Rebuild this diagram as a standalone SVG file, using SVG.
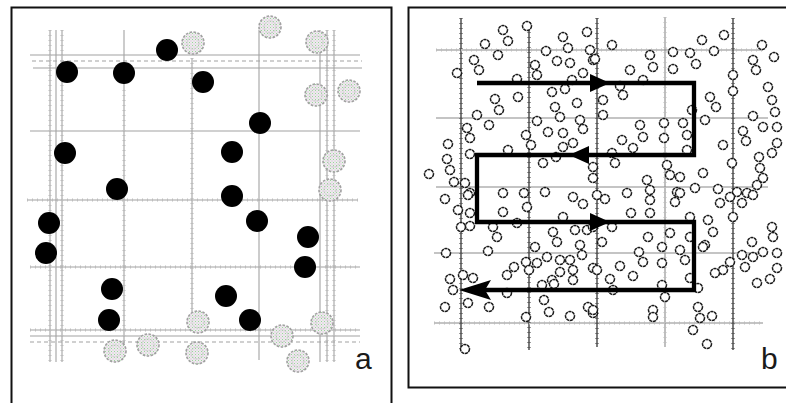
<svg xmlns="http://www.w3.org/2000/svg" width="786" height="403" viewBox="0 0 786 403">
  <defs>
    <pattern id="stipple" width="3" height="3" patternUnits="userSpaceOnUse">
      <rect width="3" height="3" fill="#eceeec"/>
      <rect x="0" y="0" width="1" height="1" fill="#9fcf9f"/>
      <rect x="1.5" y="1.5" width="1" height="1" fill="#dcaedc"/>
    </pattern>
  </defs>
  <style>
    .frame { fill: none; stroke: #111; stroke-width: 2; }
    .gl { stroke: #a2a2a2; stroke-width: 1.1; fill: none; }
    .gt { stroke: #bdbdbd; stroke-width: 3; stroke-dasharray: 1 4; fill: none; }
    .gd { stroke: #a2a2a2; stroke-width: 1.1; stroke-dasharray: 4 3; fill: none; }
    .dl { stroke: #333; stroke-width: 1.3; fill: none; }
    .dt { stroke: #5a5a5a; stroke-width: 3.2; stroke-dasharray: 1 4; fill: none; }
    .ll { stroke: #8a8a8a; stroke-width: 1.1; fill: none; }
    .black { fill: #000; }
    .grey { fill: url(#stipple); stroke: #a0a0a0; stroke-width: 1.6; stroke-dasharray: 2.5 1.5; }
    .greyin { fill: none; stroke: #c8c8c8; stroke-width: 1; stroke-dasharray: 2 1; }
    .pt { fill: #fff; stroke: #1a1a1a; stroke-width: 1.5; stroke-dasharray: 3.2 0.6; }
    .route { fill: none; stroke: #000; stroke-width: 4.3; stroke-linejoin: miter; }
    .head { fill: #000; }
    .lbl { font-family: "Liberation Sans", Arial, sans-serif; font-size: 30px; fill: #1a1a1a; }
  </style>

  <!-- panel frames -->
  <path class="frame" d="M11.5,410 V7.5 H391.5 V410"/>
  <path class="frame" d="M790,7.5 H408.5 V387.5 H790"/>

  <!-- left panel: grid -->
  <g id="grid-a">
    <g class="gl">
      <line x1="50" y1="30" x2="50" y2="362"/>
      <line x1="56" y1="30" x2="56" y2="362"/>
      <line x1="62" y1="30" x2="62" y2="362"/>
      <line x1="124" y1="30" x2="124" y2="345"/>
      <line x1="192" y1="58" x2="192" y2="325"/>
      <line x1="259" y1="30" x2="259" y2="360"/>
      <line x1="320" y1="30" x2="320" y2="362"/>
      <line x1="327" y1="30" x2="327" y2="362"/>
      <line x1="334" y1="30" x2="334" y2="362"/>
      <line x1="30" y1="55" x2="360" y2="55"/>
      <line x1="33" y1="68" x2="362" y2="68"/>
      <line x1="30" y1="131" x2="360" y2="131"/>
      <line x1="27" y1="200" x2="358" y2="200"/>
      <line x1="30" y1="267" x2="360" y2="267"/>
      <line x1="30" y1="330" x2="360" y2="330"/>
      <line x1="30" y1="336" x2="360" y2="336"/>
    </g>
    <line class="gd" x1="32" y1="61" x2="362" y2="61"/>
    <line class="gd" x1="30" y1="342" x2="360" y2="342"/>
    <g class="gt">
      <line x1="50" y1="30" x2="50" y2="362"/>
      <line x1="62" y1="30" x2="62" y2="362"/>
      <line x1="124" y1="90" x2="124" y2="345"/>
      <line x1="192" y1="58" x2="192" y2="325"/>
      <line x1="327" y1="30" x2="327" y2="362"/>
      <line x1="334" y1="30" x2="334" y2="362"/>
      <line x1="27" y1="200" x2="358" y2="200"/>
      <line x1="30" y1="267" x2="360" y2="267"/>
      <line x1="30" y1="330" x2="360" y2="330"/>
    </g>
  </g>

  <!-- left panel: hatched points -->
  <g id="hatched-points">
    <g class="grey">
      <circle cx="193" cy="43" r="11"/>
      <circle cx="270" cy="27" r="11"/>
      <circle cx="317" cy="42" r="11"/>
      <circle cx="316" cy="95" r="11"/>
      <circle cx="349" cy="91" r="11"/>
      <circle cx="334" cy="161" r="11"/>
      <circle cx="330" cy="190" r="11"/>
      <circle cx="115" cy="351" r="11"/>
      <circle cx="148" cy="345" r="11"/>
      <circle cx="198" cy="322" r="11"/>
      <circle cx="197" cy="353" r="11"/>
      <circle cx="282" cy="336" r="11"/>
      <circle cx="298" cy="361" r="11"/>
      <circle cx="322" cy="323" r="11"/>
    </g>
    <g class="greyin">
      <circle cx="193" cy="43" r="6"/>
      <circle cx="270" cy="27" r="6"/>
      <circle cx="317" cy="42" r="6"/>
      <circle cx="316" cy="95" r="6"/>
      <circle cx="349" cy="91" r="6"/>
      <circle cx="334" cy="161" r="6"/>
      <circle cx="330" cy="190" r="6"/>
      <circle cx="115" cy="351" r="6"/>
      <circle cx="148" cy="345" r="6"/>
      <circle cx="198" cy="322" r="6"/>
      <circle cx="197" cy="353" r="6"/>
      <circle cx="282" cy="336" r="6"/>
      <circle cx="298" cy="361" r="6"/>
      <circle cx="322" cy="323" r="6"/>
    </g>
  </g>

  <!-- left panel: solid points -->
  <g id="solid-points" class="black">
    <circle cx="167" cy="50" r="11"/>
    <circle cx="67" cy="72" r="11"/>
    <circle cx="124" cy="73" r="11"/>
    <circle cx="203" cy="82" r="11"/>
    <circle cx="260" cy="123" r="11"/>
    <circle cx="65" cy="153" r="11"/>
    <circle cx="232" cy="152" r="11"/>
    <circle cx="117" cy="189" r="11"/>
    <circle cx="232" cy="196" r="11"/>
    <circle cx="49" cy="223" r="11"/>
    <circle cx="257" cy="221" r="11"/>
    <circle cx="308" cy="237" r="11"/>
    <circle cx="46" cy="253" r="11"/>
    <circle cx="305" cy="267" r="11"/>
    <circle cx="112" cy="289" r="11"/>
    <circle cx="226" cy="296" r="11"/>
    <circle cx="109" cy="320" r="11"/>
    <circle cx="250" cy="320" r="11"/>
  </g>

  <text id="label-a" class="lbl" x="355" y="369">a</text>

  <!-- right panel: grid -->
  <g id="grid-b">
    <g class="ll">
      <line x1="436" y1="50" x2="763" y2="50"/>
      <line x1="436" y1="118" x2="768" y2="118"/>
      <line x1="436" y1="187" x2="768" y2="187"/>
      <line x1="434" y1="253" x2="765" y2="253"/>
      <line x1="434" y1="323" x2="763" y2="323"/>
      <line x1="665" y1="17" x2="665" y2="347"/>
    </g>
    <g class="dl">
      <line x1="461" y1="18" x2="461" y2="350"/>
      <line x1="529" y1="22" x2="529" y2="350"/>
      <line x1="597" y1="18" x2="597" y2="347"/>
      <line x1="733" y1="18" x2="733" y2="350"/>
    </g>
    <g class="gt">
      <line x1="436" y1="50" x2="763" y2="50"/>
      <line x1="434" y1="323" x2="763" y2="323"/>
      <line x1="665" y1="17" x2="665" y2="347"/>
    </g>
    <g class="dt">
      <line x1="461" y1="18" x2="461" y2="350"/>
      <line x1="529" y1="22" x2="529" y2="350"/>
      <line x1="597" y1="18" x2="597" y2="347"/>
      <line x1="733" y1="18" x2="733" y2="350"/>
    </g>
  </g>

  <!-- right panel: scattered points -->
  <g id="scatter" class="pt">
    <circle cx="527" cy="26" r="4.5"/><circle cx="503" cy="30" r="4.5"/><circle cx="508" cy="41" r="4.5"/>
    <circle cx="485" cy="44" r="4.5"/><circle cx="498" cy="55" r="4.5"/><circle cx="546" cy="51" r="4.5"/>
    <circle cx="563" cy="37" r="4.5"/><circle cx="568" cy="48" r="4.5"/><circle cx="587" cy="32" r="4.5"/>
    <circle cx="590" cy="50" r="4.5"/><circle cx="474" cy="60" r="4.5"/><circle cx="479" cy="70" r="4.5"/>
    <circle cx="457" cy="73" r="4.5"/><circle cx="535" cy="65" r="4.5"/><circle cx="557" cy="61" r="4.5"/>
    <circle cx="570" cy="63" r="4.5"/><circle cx="537" cy="75" r="4.5"/><circle cx="583" cy="73" r="4.5"/>
    <circle cx="593" cy="60" r="4.5"/><circle cx="517" cy="79" r="4.5"/><circle cx="572" cy="80" r="4.5"/>
    <circle cx="565" cy="89" r="4.5"/><circle cx="552" cy="92" r="4.5"/><circle cx="518" cy="97" r="4.5"/>
    <circle cx="495" cy="99" r="4.5"/><circle cx="499" cy="110" r="4.5"/><circle cx="577" cy="103" r="4.5"/>
    <circle cx="555" cy="107" r="4.5"/><circle cx="560" cy="117" r="4.5"/><circle cx="477" cy="115" r="4.5"/>
    <circle cx="489" cy="125" r="4.5"/><circle cx="537" cy="121" r="4.5"/><circle cx="548" cy="132" r="4.5"/>
    <circle cx="563" cy="133" r="4.5"/><circle cx="580" cy="120" r="4.5"/><circle cx="583" cy="129" r="4.5"/>
    <circle cx="467" cy="128" r="4.5"/><circle cx="470" cy="138" r="4.5"/><circle cx="526" cy="135" r="4.5"/>
    <circle cx="531" cy="145" r="4.5"/><circle cx="448" cy="144" r="4.5"/><circle cx="447" cy="159" r="4.5"/>
    <circle cx="470" cy="154" r="4.5"/><circle cx="450" cy="170" r="4.5"/><circle cx="429" cy="174" r="4.5"/>
    <circle cx="454" cy="182" r="4.5"/><circle cx="465" cy="183" r="4.5"/><circle cx="470" cy="193" r="4.5"/>
    <circle cx="508" cy="150" r="4.5"/><circle cx="556" cy="157" r="4.5"/><circle cx="563" cy="147" r="4.5"/>
    <circle cx="573" cy="143" r="4.5"/><circle cx="543" cy="163" r="4.5"/><circle cx="593" cy="167" r="4.5"/>
    <circle cx="503" cy="193" r="4.5"/><circle cx="524" cy="193" r="4.5"/><circle cx="545" cy="192" r="4.5"/>
    <circle cx="573" cy="197" r="4.5"/>
    <circle cx="612" cy="45" r="4.5"/><circle cx="595" cy="59" r="4.5"/><circle cx="650" cy="55" r="4.5"/>
    <circle cx="653" cy="67" r="4.5"/><circle cx="630" cy="70" r="4.5"/><circle cx="673" cy="52" r="4.5"/>
    <circle cx="673" cy="69" r="4.5"/><circle cx="690" cy="53" r="4.5"/><circle cx="696" cy="64" r="4.5"/>
    <circle cx="702" cy="40" r="4.5"/><circle cx="724" cy="35" r="4.5"/><circle cx="714" cy="51" r="4.5"/>
    <circle cx="762" cy="45" r="4.5"/><circle cx="774" cy="57" r="4.5"/><circle cx="753" cy="60" r="4.5"/>
    <circle cx="756" cy="70" r="4.5"/><circle cx="733" cy="75" r="4.5"/><circle cx="733" cy="91" r="4.5"/>
    <circle cx="768" cy="87" r="4.5"/><circle cx="772" cy="100" r="4.5"/><circle cx="775" cy="112" r="4.5"/>
    <circle cx="710" cy="97" r="4.5"/><circle cx="716" cy="107" r="4.5"/><circle cx="705" cy="120" r="4.5"/>
    <circle cx="753" cy="116" r="4.5"/><circle cx="763" cy="127" r="4.5"/><circle cx="777" cy="127" r="4.5"/>
    <circle cx="743" cy="131" r="4.5"/><circle cx="746" cy="141" r="4.5"/><circle cx="777" cy="143" r="4.5"/>
    <circle cx="772" cy="153" r="4.5"/><circle cx="759" cy="157" r="4.5"/><circle cx="723" cy="145" r="4.5"/>
    <circle cx="643" cy="80" r="4.5"/><circle cx="623" cy="95" r="4.5"/><circle cx="620" cy="86" r="4.5"/>
    <circle cx="603" cy="100" r="4.5"/><circle cx="603" cy="115" r="4.5"/><circle cx="692" cy="110" r="4.5"/>
    <circle cx="687" cy="135" r="4.5"/><circle cx="683" cy="123" r="4.5"/><circle cx="664" cy="123" r="4.5"/>
    <circle cx="664" cy="138" r="4.5"/><circle cx="640" cy="125" r="4.5"/><circle cx="643" cy="137" r="4.5"/>
    <circle cx="622" cy="140" r="4.5"/><circle cx="633" cy="148" r="4.5"/><circle cx="687" cy="150" r="4.5"/>
    <circle cx="615" cy="163" r="4.5"/><circle cx="612" cy="153" r="4.5"/><circle cx="667" cy="165" r="4.5"/>
    <circle cx="670" cy="175" r="4.5"/><circle cx="680" cy="177" r="4.5"/><circle cx="703" cy="173" r="4.5"/>
    <circle cx="732" cy="163" r="4.5"/><circle cx="760" cy="168" r="4.5"/><circle cx="763" cy="178" r="4.5"/>
    <circle cx="757" cy="185" r="4.5"/><circle cx="647" cy="180" r="4.5"/><circle cx="650" cy="190" r="4.5"/>
    <circle cx="627" cy="193" r="4.5"/><circle cx="593" cy="178" r="4.5"/><circle cx="718" cy="189" r="4.5"/>
    <circle cx="695" cy="188" r="4.5"/><circle cx="677" cy="192" r="4.5"/><circle cx="737" cy="192" r="4.5"/>
    <circle cx="747" cy="193" r="4.5"/><circle cx="597" cy="195" r="4.5"/>
    <circle cx="445" cy="199" r="4.5"/><circle cx="468" cy="195" r="4.5"/><circle cx="458" cy="210" r="4.5"/>
    <circle cx="470" cy="213" r="4.5"/><circle cx="503" cy="212" r="4.5"/><circle cx="527" cy="207" r="4.5"/>
    <circle cx="583" cy="204" r="4.5"/><circle cx="461" cy="227" r="4.5"/><circle cx="470" cy="226" r="4.5"/>
    <circle cx="493" cy="227" r="4.5"/><circle cx="497" cy="237" r="4.5"/><circle cx="517" cy="223" r="4.5"/>
    <circle cx="563" cy="217" r="4.5"/><circle cx="575" cy="230" r="4.5"/><circle cx="587" cy="230" r="4.5"/>
    <circle cx="553" cy="232" r="4.5"/><circle cx="557" cy="242" r="4.5"/><circle cx="446" cy="253" r="4.5"/>
    <circle cx="488" cy="251" r="4.5"/><circle cx="535" cy="247" r="4.5"/><circle cx="547" cy="257" r="4.5"/>
    <circle cx="526" cy="262" r="4.5"/><circle cx="537" cy="263" r="4.5"/><circle cx="529" cy="270" r="4.5"/>
    <circle cx="514" cy="267" r="4.5"/><circle cx="507" cy="275" r="4.5"/><circle cx="560" cy="260" r="4.5"/>
    <circle cx="570" cy="260" r="4.5"/><circle cx="582" cy="255" r="4.5"/><circle cx="580" cy="245" r="4.5"/>
    <circle cx="573" cy="270" r="4.5"/><circle cx="560" cy="272" r="4.5"/><circle cx="552" cy="280" r="4.5"/>
    <circle cx="573" cy="280" r="4.5"/><circle cx="593" cy="268" r="4.5"/><circle cx="450" cy="279" r="4.5"/>
    <circle cx="463" cy="275" r="4.5"/><circle cx="473" cy="278" r="4.5"/><circle cx="453" cy="290" r="4.5"/>
    <circle cx="468" cy="303" r="4.5"/><circle cx="489" cy="307" r="4.5"/><circle cx="507" cy="293" r="4.5"/>
    <circle cx="542" cy="285" r="4.5"/><circle cx="554" cy="284" r="4.5"/><circle cx="445" cy="307" r="4.5"/>
    <circle cx="544" cy="300" r="4.5"/><circle cx="549" cy="312" r="4.5"/><circle cx="526" cy="317" r="4.5"/>
    <circle cx="570" cy="316" r="4.5"/><circle cx="588" cy="307" r="4.5"/><circle cx="593" cy="313" r="4.5"/>
    <circle cx="465" cy="349" r="4.5"/>
    <circle cx="605" cy="199" r="4.5"/><circle cx="650" cy="200" r="4.5"/><circle cx="680" cy="193" r="4.5"/>
    <circle cx="675" cy="202" r="4.5"/><circle cx="720" cy="203" r="4.5"/><circle cx="730" cy="197" r="4.5"/>
    <circle cx="742" cy="203" r="4.5"/><circle cx="753" cy="195" r="4.5"/><circle cx="733" cy="217" r="4.5"/>
    <circle cx="593" cy="227" r="4.5"/><circle cx="602" cy="242" r="4.5"/><circle cx="612" cy="227" r="4.5"/>
    <circle cx="631" cy="213" r="4.5"/><circle cx="650" cy="213" r="4.5"/><circle cx="670" cy="233" r="4.5"/>
    <circle cx="648" cy="237" r="4.5"/><circle cx="662" cy="247" r="4.5"/><circle cx="690" cy="217" r="4.5"/>
    <circle cx="690" cy="237" r="4.5"/><circle cx="708" cy="220" r="4.5"/><circle cx="713" cy="232" r="4.5"/>
    <circle cx="705" cy="245" r="4.5"/><circle cx="639" cy="252" r="4.5"/><circle cx="643" cy="262" r="4.5"/>
    <circle cx="662" cy="263" r="4.5"/><circle cx="680" cy="250" r="4.5"/><circle cx="685" cy="260" r="4.5"/>
    <circle cx="620" cy="266" r="4.5"/><circle cx="633" cy="276" r="4.5"/><circle cx="597" cy="270" r="4.5"/>
    <circle cx="610" cy="279" r="4.5"/><circle cx="613" cy="290" r="4.5"/><circle cx="662" cy="285" r="4.5"/>
    <circle cx="665" cy="297" r="4.5"/><circle cx="690" cy="278" r="4.5"/><circle cx="698" cy="288" r="4.5"/>
    <circle cx="703" cy="247" r="4.5"/><circle cx="593" cy="310" r="4.5"/><circle cx="752" cy="242" r="4.5"/>
    <circle cx="772" cy="227" r="4.5"/><circle cx="773" cy="237" r="4.5"/><circle cx="763" cy="252" r="4.5"/>
    <circle cx="777" cy="253" r="4.5"/><circle cx="742" cy="255" r="4.5"/><circle cx="753" cy="257" r="4.5"/>
    <circle cx="730" cy="262" r="4.5"/><circle cx="745" cy="267" r="4.5"/><circle cx="723" cy="270" r="4.5"/>
    <circle cx="715" cy="273" r="4.5"/><circle cx="777" cy="268" r="4.5"/><circle cx="770" cy="279" r="4.5"/>
    <circle cx="757" cy="283" r="4.5"/><circle cx="698" cy="307" r="4.5"/><circle cx="653" cy="310" r="4.5"/>
    <circle cx="653" cy="317" r="4.5"/><circle cx="700" cy="318" r="4.5"/><circle cx="712" cy="316" r="4.5"/>
    <circle cx="693" cy="330" r="4.5"/><circle cx="707" cy="344" r="4.5"/>
  </g>

  <!-- scan route with direction arrows -->
  <g id="connectors">
    <path class="route" d="M477,83 H694 V155 H477 V222 H694 V290 H470"/>
    <polygon class="head" points="590,74 610,83 590,92"/>
    <polygon class="head" points="589,146 569,155 589,164"/>
    <polygon class="head" points="590,213 610,222 590,231"/>
    <polygon class="head" points="491,280 459,290 491,300 485,290"/>
  </g>

  <text id="label-b" class="lbl" x="761" y="369">b</text>
</svg>
